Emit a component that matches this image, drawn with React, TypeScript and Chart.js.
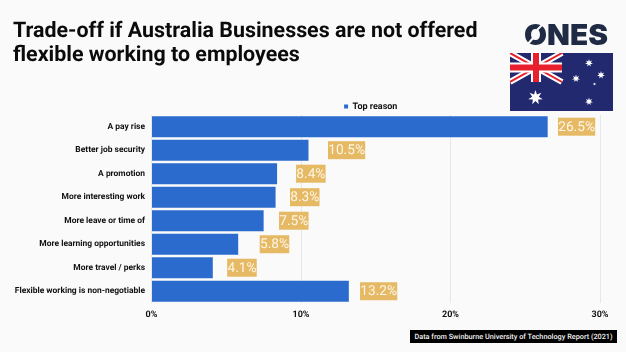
import React, { useEffect, useRef } from "react";
import { Chart, registerables } from "chart.js";

Chart.register(...registerables);

const titleLines = ["Trade-off if Australia Businesses are not offered", "flexible working to employees"];
const categories = [
  "A pay rise",
  "Better job security",
  "A promotion",
  "More interesting work",
  "More leave or time of",
  "More learning opportunities",
  "More travel / perks",
  "Flexible working is non-negotiable",
];
const topReason = [26.5, 10.5, 8.4, 8.3, 7.5, 5.8, 4.1, 13.2];
const seriesName = "Top reason";
const sourceNote = "Data from Swinburne University of Technology Report (2021)";
const logoText = "ONES";

const FONT = "Roboto, Inter, sans-serif";
// The reference's value badges sit at uneven distances past each bar's end.
const badgeGaps = [10.3, 19.5, 19, 14.4, 15.4, 21.5, 14.4, 11.2];

const layoutTweaks = {
  id: "layoutTweaks",
  beforeDraw(chart: any) {
    chart.ctx.textRendering = "geometricPrecision";
  },
  afterLayout(chart: any) {
    const legend = chart.legend;
    legend.right = chart.chartArea.right - 10;
    legend.left = chart.chartArea.left;
    legend.top += 6;
    legend.bottom += 6;
  },
};

const valueBadges = {
  id: "valueBadges",
  afterDatasetsDraw(chart: any) {
    const { ctx } = chart;
    const meta = chart.getDatasetMeta(0);
    ctx.save();
    ctx.font = `400 13.7px ${FONT}`;
    ctx.textAlign = "left";
    ctx.textBaseline = "middle";
    meta.data.forEach((bar: any, i: number) => {
      const label = topReason[i].toFixed(1) + "%";
      const w = ctx.measureText(label).width;
      const x = bar.x + badgeGaps[i];
      ctx.fillStyle = "#e6b965";
      ctx.fillRect(x, bar.y - 9, w + 0.5, 18);
      ctx.fillStyle = "#fdf6e6";
      ctx.fillText(label, x + 0.25, bar.y + 0.5);
    });
    ctx.restore();
  },
};

function Flag() {
  const star = (cx: number, cy: number, r: number, n = 7) => {
    const pts: string[] = [];
    for (let i = 0; i < n * 2; i++) {
      const rad = i % 2 === 0 ? r : r * 0.45;
      const a = (Math.PI * i) / n - Math.PI / 2;
      pts.push(`${cx + rad * Math.cos(a)},${cy + rad * Math.sin(a)}`);
    }
    return <polygon points={pts.join(" ")} fill="#fff" />;
  };
  return (
    <svg width={103} height={58} viewBox="0 0 103 58" style={{ position: "absolute", left: 510, top: 53 }}>
      <rect width={103} height={58} fill="#22296f" />
      <path d="M0 0L52 29M52 0L0 29" stroke="#fff" strokeWidth={6} />
      <path d="M0 0L52 29M52 0L0 29" stroke="#e8202e" strokeWidth={2} />
      <path d="M26 0V29M0 14.5H52" stroke="#fff" strokeWidth={10} />
      <path d="M26 0V29M0 14.5H52" stroke="#e8202e" strokeWidth={6} />
      {star(25.5, 44.5, 7.5)}
      {star(79, 10, 4)}
      {star(66, 25.5, 4)}
      {star(91, 22, 4)}
      {star(84.5, 31, 1.6, 5)}
      {star(79, 48.5, 4)}
    </svg>
  );
}

export default function App() {
  const ref = useRef<HTMLCanvasElement>(null);

  useEffect(() => {
    const chart = new Chart(ref.current as HTMLCanvasElement, {
      type: "bar",
      data: {
        labels: categories,
        datasets: [
          {
            label: seriesName,
            data: topReason,
            backgroundColor: "#2b6bce",
            categoryPercentage: 1,
            barPercentage: 0.89,
          },
        ],
      },
      options: {
        indexAxis: "y",
        responsive: false,
        animation: false,
        layout: { padding: { left: 13, right: 26, top: 20, bottom: 34 } },
        plugins: {
          tooltip: { enabled: false },
          title: {
            display: true,
            text: titleLines,
            align: "start",
            color: "#0b0b0b",
            font: { family: FONT, size: 21.4, weight: "700", lineHeight: 1.12 },
            padding: { top: 0, bottom: 28 },
          },
          legend: {
            display: true,
            position: "top",
            fullSize: false,
            labels: {
              boxWidth: 4,
              boxHeight: 4,
              padding: 0,
              color: "#111",
              font: { family: FONT, size: 9, weight: "700" },
            },
          },
        },
        scales: {
          x: {
            min: 0,
            max: 30,
            position: "bottom",
            afterFit: (s: any) => {
              s.height = 15;
            },
            ticks: {
              stepSize: 10,
              padding: 6,
              maxRotation: 0,
              color: "#111",
              font: { family: FONT, size: 9, weight: "700" },
              callback: (v: any) => v + "%",
            },
            grid: { color: "#e7e7e7", drawTicks: false, lineWidth: 1 },
            border: { display: false },
          },
          y: {
            afterFit: (s: any) => {
              s.width = 138.5;
            },
            ticks: {
              padding: 6.5,
              autoSkip: false,
              color: "#111",
              font: { family: FONT, size: 8.45, weight: "700" },
            },
            grid: { display: false, drawTicks: false },
            border: { display: false },
          },
        },
      },
      plugins: [layoutTweaks, valueBadges],
    } as any);
    return () => chart.destroy();
  }, []);

  return (
    <div style={{ position: "fixed", left: 0, top: 0, width: 626, height: 352, background: "#fafafa", overflow: "hidden" }}>
      <canvas ref={ref} width={626} height={352} style={{ display: "block", position: "absolute", left: 0, top: 0 }} />
      <svg width={90} height={28} viewBox="0 0 90 28" style={{ position: "absolute", left: 522, top: 20 }}>
        <text x={2} y={25} fontFamily="Inter, Roboto, sans-serif" fontWeight={900} fontSize={29} fill="#1f2a44" textLength={84} lengthAdjust="spacingAndGlyphs">
          {logoText}
        </text>
        <path d="M15 10L23 2M12 17L5 25" stroke="#fafafa" strokeWidth={2} fill="none" />
      </svg>
      <Flag />
      <div
        style={{
          position: "absolute",
          left: 410,
          top: 330,
          width: 207,
          height: 13,
          background: "#000",
          color: "#f4f4f4",
          font: `500 7.3px/13px ${FONT}`,
          textRendering: "geometricPrecision",
          textAlign: "center",
          whiteSpace: "nowrap",
          opacity: 0.999,
        }}
      >
        {sourceNote}
      </div>
    </div>
  );
}
